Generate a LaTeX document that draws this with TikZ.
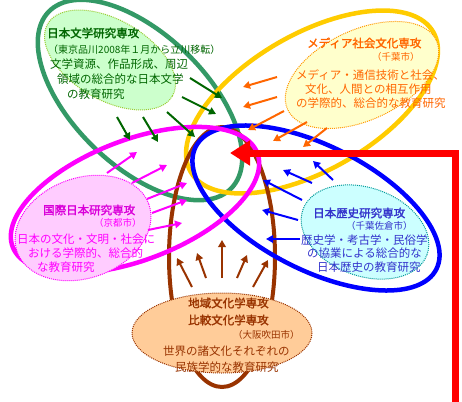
\documentclass[tikz,border=0pt]{standalone}
\usepackage{fontspec}
\newfontfamily\cjk{Noto Sans CJK JP}[AutoFakeBold=2]
\usetikzlibrary{arrows.meta}
\definecolor{lgreen}{HTML}{339966}
\definecolor{dgreen}{HTML}{006600}
\definecolor{gold}{HTML}{FFCC00}
\definecolor{orng}{HTML}{FF6600}
\definecolor{mag}{HTML}{FF00FF}
\definecolor{bluel}{HTML}{0000FF}
\definecolor{brwn}{HTML}{993300}
\definecolor{txtblue}{HTML}{3333CC}
\definecolor{fgreen}{HTML}{CCFFCC}
\definecolor{fyellow}{HTML}{FFFFCC}
\definecolor{fmag}{HTML}{FFCCFF}
\definecolor{fcyan}{HTML}{CCFFFF}
\definecolor{fbrown}{HTML}{FFCC99}
\definecolor{bgreen}{HTML}{99CC33}
\definecolor{borng}{HTML}{FF9900}
\definecolor{bteal}{HTML}{009999}
\tikzset{
  loop/.style={line width=4.5pt},
  blob/.style={densely dotted, line width=1pt},
  arr/.style={line width=2pt, -{Triangle[length=7pt,width=7.5pt]}},
  lbl/.style={inner sep=0pt, anchor=west, font=\cjk\fontsize{11.5}{12}\selectfont},
  ttl/.style={lbl, font=\cjk\bfseries\fontsize{11.5}{12}\selectfont},
  par/.style={lbl, font=\cjk\fontsize{9.5}{10}\selectfont}
}
\begin{document}
\begin{tikzpicture}[x=1pt,y=-1pt]
\useasboundingbox[fill=white] (0,0) rectangle (462,401);
% big loops
\draw[loop, lgreen, rotate around={-44:(140,100)}] (140,100) ellipse [x radius=127, y radius=66];
\draw[loop, gold, rotate around={30:(312,102)}] (312,102) ellipse [x radius=140, y radius=68];
\draw[loop, brwn, line width=4pt] (222,257) ellipse [x radius=53, y radius=130];
\draw[loop, bluel, rotate around={-27:(316,208)}] (316,208) ellipse [x radius=135, y radius=62];
\draw[loop, mag, rotate around={21:(135,200)}] (135,200) ellipse [x radius=131, y radius=60];
% text blobs
\draw[blob, fill=fgreen, draw=bgreen, rotate around={-30:(110,60)}] (110,60) ellipse [x radius=72, y radius=40];
\draw[blob, fill=fyellow, draw=borng, rotate around={25:(362,75)}] (362,75) ellipse [x radius=82, y radius=45];
\draw[blob, fill=fmag, draw=mag, rotate around={20:(83,228)}] (83,228) ellipse [x radius=70, y radius=50];
\draw[blob, fill=fcyan, draw=bteal, rotate around={-20:(365,232)}] (365,232) ellipse [x radius=66, y radius=44];
\draw[blob, fill=fbrown, draw=brwn] (222,333) ellipse [x radius=90, y radius=40];
% green arrows
\draw[arr, dgreen] (190,78) -- (222,98);
\draw[arr, dgreen] (182,97) -- (216,114);
\draw[arr, dgreen] (167,112) -- (195,137);
\draw[arr, dgreen] (143,117) -- (158,142);
\draw[arr, dgreen] (117,117) -- (130,140);
% orange arrows
\draw[arr, orng] (277,77) -- (243,87);
\draw[arr, orng] (277,97) -- (243,107);
\draw[arr, orng] (284,111) -- (248,130);
\draw[arr, orng] (307,122) -- (273,141);
\draw[arr, orng] (327,128) -- (303,147);
% blue arrows
\draw[arr, bluel] (333,180) -- (313,161);
\draw[arr, bluel] (312,183) -- (283,170);
\draw[arr, bluel] (302,200) -- (263,180);
\draw[arr, bluel] (298,220) -- (262,210);
\draw[arr, bluel] (300,239) -- (266,239);
% magenta arrows
\draw[arr, mag] (107,173) -- (137,152);
\draw[arr, mag] (132,183) -- (167,165);
\draw[arr, mag] (147,199) -- (187,183);
\draw[arr, mag] (152,213) -- (187,200);
\draw[arr, mag] (148,230) -- (182,223);
% brown arrows
\draw[arr, brwn] (192,287) -- (177,258);
\draw[arr, brwn] (206,278) -- (197,253);
\draw[arr, brwn] (222,278) -- (222,240);
\draw[arr, brwn] (237,278) -- (247,255);
\draw[arr, brwn] (253,287) -- (268,260);
% red arrow
\coordinate (r0) at (455,402);
\coordinate (r1) at (455,153);
\coordinate (r2) at (230,153);
\draw[red, line width=7pt, -{Triangle[length=20pt,width=24pt]}] (r0) -- (r1) -- (r2);
% texts: green
\node[ttl, dgreen] (g1) at (47,33) {日本文学研究専攻};
\node[lbl, dgreen, font=\cjk\fontsize{10}{10}\selectfont] (g2) at (48,50) {（東京品川2008年１月から立川移転）};
\node[lbl, dgreen] (g3) at (50,64) {文学資源、作品形成、周辺};
\node[lbl, dgreen] (g4) at (57,79) {領域の総合的な日本文学};
\node[lbl, dgreen] (g5) at (67,94) {の教育研究};
% yellow
\node[ttl, orng] (y1) at (307,43) {メディア社会文化専攻};
\node[par, orng] (y2) at (372,57) {（千葉市）};
\node[lbl, orng] (y3) at (296,75) {メディア・通信技術と社会、};
\node[lbl, orng] (y4) at (305,89) {文化、人間との相互作用};
\node[lbl, orng] (y5) at (296,103) {の学際的、総合的な教育研究};
% magenta
\node[ttl, mag!85!black] (m1) at (43,210) {国際日本研究専攻};
\node[par, mag] (m2) at (94,223) {（京都市）};
\node[lbl, mag] (m3) at (17,239) {日本の文化・文明・社会に};
\node[lbl, mag] (m4) at (28,253) {おける学際的、総合的};
\node[lbl, mag] (m5) at (37,267) {な教育研究};
% blue
\node[ttl, txtblue] (b1) at (313,213) {日本歴史研究専攻};
\node[par, txtblue] (b2) at (346,226) {（千葉佐倉市）};
\node[lbl, txtblue] (b3) at (301,240) {歴史学・考古学・民俗学};
\node[lbl, txtblue] (b4) at (307,253) {の協業による総合的な};
\node[lbl, txtblue] (b5) at (317,267) {日本歴史の教育研究};
% brown
\node[ttl, brwn] (c1) at (188,303) {地域文化学専攻};
\node[ttl, brwn] (c2) at (188,320) {比較文化学専攻};
\node[par, brwn] (c3) at (233,335) {（大阪吹田市）};
\node[lbl, brwn] (c4) at (163,351) {世界の諸文化それぞれの};
\node[lbl, brwn] (c5) at (175,367) {民族学的な教育研究};
\end{tikzpicture}
\end{document}
